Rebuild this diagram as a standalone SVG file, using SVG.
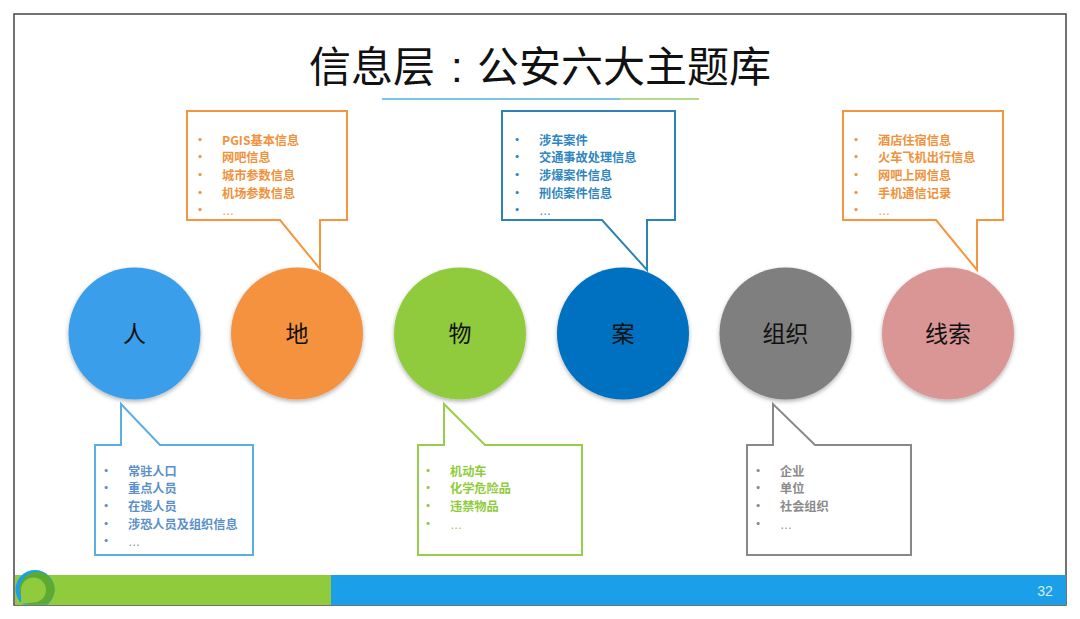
<svg xmlns="http://www.w3.org/2000/svg" width="1080" height="619" viewBox="0 0 1080 619">
<style>
text{font-family:"Noto Sans CJK SC","Liberation Sans",sans-serif}
.n{font-size:23px;fill:#111;text-anchor:middle}
.t{font-size:12.200px;font-weight:700}
.e{font-family:"Liberation Sans",sans-serif;font-weight:400}
.ot{fill:#f0923c}
.b{fill:#5a8fc8}.g{fill:#8fcc3c}.gr{fill:#8a8a8a}.d{fill:#2f86bf}
</style>
<defs>
<filter id="s" x="-20%" y="-20%" width="140%" height="140%"><feDropShadow dx="0" dy="2" stdDeviation="2" flood-color="#000" flood-opacity=".3"/></filter>
<clipPath id="logo"><rect x="15" y="565" width="45" height="39.500"/></clipPath>
</defs>
<rect width="1080" height="619" fill="#fff"/>
<rect x="14" y="14" width="1052" height="591" fill="#fff" stroke="#444" stroke-width="1.500"/>
<text y="82" font-size="42" fill="#111"><tspan x="309">信息层</tspan><tspan x="451" style="font-family:'Liberation Sans',sans-serif">:</tspan><tspan x="477">公安六大主题库</tspan></text>
<rect x="382" y="98" width="238" height="2" fill="#7cc4e6"/><rect x="620" y="98" width="79" height="2" fill="#b5d98a"/>
<g id="footer"><rect x="15" y="575" width="316" height="30" fill="#8fcb3d"/><rect x="331" y="575" width="735" height="30" fill="#1b9fe8"/>
<g clip-path="url(#logo)"><circle cx="35" cy="589.500" r="19.500" fill="#1b9fe8"/><circle cx="37" cy="589.500" r="17.500" fill="#5cab30"/></g>
<path d="M21 604V590A12.500 12.500 0 1 1 33.500 602.500Q27 603 21 604Z" fill="#8fcb3d"/>
<text x="1045" y="596" font-size="14" fill="#d8ecfa" text-anchor="middle" style="font-family:'Liberation Sans',sans-serif">32</text></g>
<g id="connectors" fill="#fff" stroke-width="2">
<path d="M187 111H347V220H320V269L280 220H187Z" stroke="#f5963f"/>
<path d="M502 111H675V220H647V270L602 220H502Z" stroke="#2d83b5"/>
<path d="M843 111H1003V220H977V270L936 220H843Z" stroke="#f5963f"/>
<path d="M95 445H121V404L160 445H253V555H95Z" stroke="#5aaee0"/>
<path d="M418 445H444V404L485 445H582V555H418Z" stroke="#96ce4c"/>
<path d="M747 445H773V404L815 445H911V555H747Z" stroke="#888"/>
</g>
<g id="ren"><circle cx="134.500" cy="333.500" r="66" fill="#3a9eea" filter="url(#s)"/><text class="n" x="134.500" y="342">人</text></g>
<g id="di"><circle cx="297" cy="333.500" r="66" fill="#f59240" filter="url(#s)"/><text class="n" x="297" y="342">地</text></g>
<g id="wu"><circle cx="460" cy="333.500" r="66" fill="#90cb3e" filter="url(#s)"/><text class="n" x="460" y="342">物</text></g>
<g id="an"><circle cx="623" cy="333.500" r="66" fill="#0070c0" filter="url(#s)"/><text class="n" x="623" y="342">案</text></g>
<g id="zuzhi"><circle cx="785.500" cy="333.500" r="66" fill="#7f7f7f" filter="url(#s)"/><text class="n" x="785.500" y="342">组织</text></g>
<g id="xiansuo"><circle cx="948" cy="333.500" r="66" fill="#d99694" filter="url(#s)"/><text class="n" x="948" y="342">线索</text></g>
<g id="list-di" class="t ot"><text x="194" y="145">•</text><text x="222" y="145">PGIS基本信息</text><text x="194" y="162">•</text><text x="222" y="162">网吧信息</text><text x="194" y="180">•</text><text x="222" y="180">城市参数信息</text><text x="194" y="198">•</text><text x="222" y="198">机场参数信息</text><text x="194" y="215">•</text><text class="e" x="222" y="215">…</text></g>
<g id="list-an" class="t d"><text x="511" y="145">•</text><text x="539" y="145">涉车案件</text><text x="511" y="162">•</text><text x="539" y="162">交通事故处理信息</text><text x="511" y="180">•</text><text x="539" y="180">涉爆案件信息</text><text x="511" y="198">•</text><text x="539" y="198">刑侦案件信息</text><text x="511" y="215">•</text><text class="e" x="539" y="215">…</text></g>
<g id="list-xs" class="t ot"><text x="850" y="145">•</text><text x="878" y="145">酒店住宿信息</text><text x="850" y="162">•</text><text x="878" y="162">火车飞机出行信息</text><text x="850" y="180">•</text><text x="878" y="180">网吧上网信息</text><text x="850" y="198">•</text><text x="878" y="198">手机通信记录</text><text x="850" y="215">•</text><text class="e" x="878" y="215">…</text></g>
<g id="list-ren" class="t b"><text x="100" y="476">•</text><text x="128" y="476">常驻人口</text><text x="100" y="493">•</text><text x="128" y="493">重点人员</text><text x="100" y="511">•</text><text x="128" y="511">在逃人员</text><text x="100" y="529">•</text><text x="128" y="529">涉恐人员及组织信息</text><text x="100" y="546">•</text><text class="e" x="128" y="546">…</text></g>
<g id="list-wu" class="t g"><text x="422" y="476">•</text><text x="450" y="476">机动车</text><text x="422" y="493">•</text><text x="450" y="493">化学危险品</text><text x="422" y="511">•</text><text x="450" y="511">违禁物品</text><text x="422" y="529">•</text><text class="e" x="450" y="529">…</text></g>
<g id="list-zz" class="t gr"><text x="752" y="476">•</text><text x="780" y="476">企业</text><text x="752" y="493">•</text><text x="780" y="493">单位</text><text x="752" y="511">•</text><text x="780" y="511">社会组织</text><text x="752" y="529">•</text><text class="e" x="780" y="529">…</text></g>
</svg>
